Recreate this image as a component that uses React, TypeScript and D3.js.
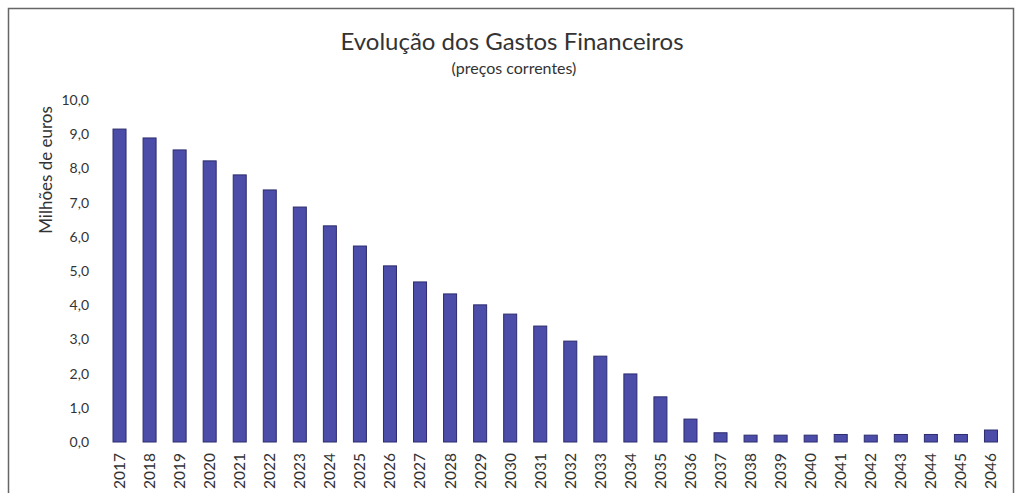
import React, { useEffect, useRef } from 'react';
import * as d3 from 'd3';

const years = [
  '2017', '2018', '2019', '2020', '2021', '2022', '2023', '2024', '2025', '2026',
  '2027', '2028', '2029', '2030', '2031', '2032', '2033', '2034', '2035', '2036',
  '2037', '2038', '2039', '2040', '2041', '2042', '2043', '2044', '2045', '2046',
];
const gastos = [
  9.15, 8.89, 8.54, 8.22, 7.81, 7.37, 6.87, 6.32, 5.73, 5.15,
  4.68, 4.33, 4.01, 3.74, 3.39, 2.95, 2.51, 1.99, 1.32, 0.67,
  0.27, 0.2, 0.2, 0.2, 0.22, 0.2, 0.22, 0.22, 0.22, 0.35,
];
const yTicks = [0, 1, 2, 3, 4, 5, 6, 7, 8, 9, 10];

const FONT = 'Lato, "Open Sans", sans-serif';

const App = () => {
  const ref = useRef<SVGSVGElement>(null);

  useEffect(() => {
    const svg = d3.select(ref.current);
    svg.selectAll('*').remove();

    // frame
    svg.append('rect')
      .attr('x', 8.5).attr('y', 8.5)
      .attr('width', 1005).attr('height', 520)
      .attr('fill', '#fff')
      .attr('stroke', '#666')
      .attr('stroke-width', 1.5);

    const x = d3.scaleBand<string>()
      .domain(years)
      .range([104.5, 1006])
      .paddingInner(0.567)
      .paddingOuter(0.2835);

    const y = d3.scaleLinear().domain([0, 10]).range([442, 100]);

    svg.append('text')
      .attr('x', 512).attr('y', 50)
      .attr('text-anchor', 'middle')
      .style('font-family', FONT)
      .style('font-size', '24px')
      .style('fill', '#333')
      .text('Evolução dos Gastos Financeiros');

    svg.append('text')
      .attr('x', 514).attr('y', 74)
      .attr('text-anchor', 'middle')
      .style('font-family', FONT)
      .style('font-size', '16px')
      .style('fill', '#333')
      .text('(preços correntes)');

    // y axis labels
    const yAxis = d3.axisLeft(y)
      .tickValues(yTicks)
      .tickSize(0)
      .tickPadding(0)
      .tickFormat((d) => d3.format('.1f')(d as number).replace('.', ','));
    const gy = svg.append('g').attr('transform', 'translate(89,0)').call(yAxis);
    gy.select('.domain').remove();
    gy.selectAll('text')
      .style('font-family', FONT)
      .style('font-size', '14px')
      .style('fill', '#333');

    svg.append('text')
      .attr('transform', 'translate(52,170) rotate(-90)')
      .attr('text-anchor', 'middle')
      .style('font-family', FONT)
      .style('font-size', '17px')
      .style('fill', '#333')
      .text('Milhões de euros');

    // bars
    svg.append('g')
      .selectAll('rect')
      .data(gastos)
      .enter()
      .append('rect')
      .attr('x', (d, i) => x(years[i]) as number)
      .attr('y', (d) => y(d))
      .attr('width', x.bandwidth())
      .attr('height', (d) => y(0) - y(d))
      .attr('fill', '#4c4ca9')
      .attr('stroke', '#2c2c6e')
      .attr('stroke-width', 1);

    // x axis labels
    const xAxis = d3.axisBottom(x).tickSize(0).tickPadding(0);
    const gx = svg.append('g').attr('transform', 'translate(0,453)').call(xAxis);
    gx.select('.domain').remove();
    gx.selectAll('text')
      .attr('transform', 'rotate(-90)')
      .attr('x', 0)
      .attr('y', 0)
      .attr('dy', '0.35em')
      .attr('text-anchor', 'end')
      .style('font-family', FONT)
      .style('font-size', '15.5px')
      .style('fill', '#333');
  // eslint-disable-next-line react-hooks/exhaustive-deps
  }, []);

  return (
    <svg
      ref={ref}
      width={1016}
      height={493}
      style={{ position: 'absolute', left: 0, top: 0, background: '#fff' }}
    ></svg>
  );
};

export default App;
